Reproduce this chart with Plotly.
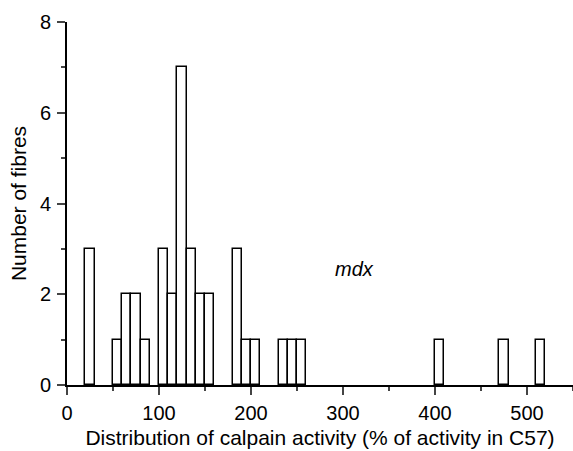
import plotly.graph_objects as go

bin_starts = [20, 50, 60, 70, 80, 100, 110, 120, 130, 140, 150, 180, 190, 200, 230, 240, 250, 400, 470, 510]
counts = [3, 1, 2, 2, 1, 3, 2, 7, 3, 2, 2, 3, 1, 1, 1, 1, 1, 1, 1, 1]
bin_width = 10
x_ticks = [0, 100, 200, 300, 400, 500]
y_ticks = [0, 2, 4, 6, 8]

font_family = "Liberation Sans, Arial, Helvetica, sans-serif"

fig = go.Figure()
fig.add_trace(go.Bar(
    x=[s + bin_width / 2 for s in bin_starts],
    y=counts,
    width=[bin_width] * len(bin_starts),
    marker=dict(color="white", line=dict(color="black", width=1.5)),
    showlegend=False,
))

fig.add_annotation(x=313, y=2.55, text="<i>mdx</i>", showarrow=False,
                   font=dict(size=20, color="black", family=font_family))

fig.update_layout(
    width=573, height=451,
    margin=dict(l=67, r=0, t=22, b=66, autoexpand=False),
    plot_bgcolor="white", paper_bgcolor="white",
    font=dict(family=font_family, size=20, color="black"),
    bargap=0,
)
fig.update_xaxes(
    range=[0, 550], tickvals=x_ticks, ticks="outside", ticklen=8, tickwidth=1.5,
    showline=True, linecolor="black", linewidth=2, showgrid=False, zeroline=False,
    minor=dict(ticks="outside", ticklen=4, tickwidth=1.5, dtick=50, tick0=0, showgrid=False),
    title=dict(text="Distribution of calpain activity (% of activity in C57)", standoff=7,
               font=dict(size=21)),
    tickfont=dict(size=20), automargin=False, ticklabelstandoff=1,
)
fig.update_yaxes(
    range=[0, 8], tickvals=y_ticks, ticks="outside", ticklen=8, tickwidth=1.5,
    showline=True, linecolor="black", linewidth=2, showgrid=False, zeroline=False,
    minor=dict(ticks="outside", ticklen=4, tickwidth=1.5, dtick=1, tick0=0, showgrid=False),
    title=dict(text="Number of fibres", standoff=8, font=dict(size=21)),
    tickfont=dict(size=20), automargin=False, ticklabelstandoff=2,
)

fig.write_html("out.html", config={"displayModeBar": False},
               post_script="document.body.style.margin='0px';")
